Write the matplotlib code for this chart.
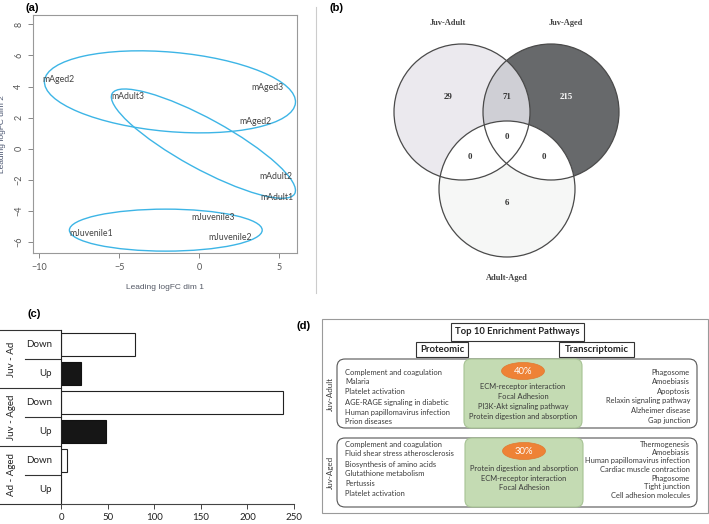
import matplotlib
matplotlib.use("Agg")
import matplotlib.pyplot as plt
from matplotlib.patches import Ellipse, Circle, Rectangle, FancyBboxPatch

plt.rcParams["font.family"] = ["Lato", "DejaVu Sans"]

# %%
# data

# (a) MDS plot
mds_names = ["mAged2", "mAdult3", "mAged3", "mAged2", "mAdult2", "mAdult1",
             "mJuvenile3", "mJuvenile1", "mJuvenile2"]
mds_x = [-8.8, -4.5, 4.25, 3.5, 4.75, 4.87, 0.87, -6.75, 1.9]
mds_y = [4.47, 3.38, 3.95, 1.77, -1.76, -3.11, -4.4, -5.42, -5.68]
# group ellipses: centre x, centre y, width, height, angle
ell_cx = [-1.84, 0.25, -2.1]
ell_cy = [3.66, 0.33, -5.23]
ell_w = [15.75, 13.1, 12.05]
ell_h = [5.1, 3.2, 2.7]
ell_ang = [-5.2, -29.5, 0.0]

# (b) Venn
venn_sets = ["Juv-Adult", "Juv-Aged", "Adult-Aged"]
venn_regions = ["A", "AB", "B", "ABC", "AC", "BC", "C"]
venn_counts = [29, 71, 215, 0, 0, 0, 6]

# (c) DE counts
groups = ["Juv - Ad", "Juv - Aged", "Ad - Aged"]
directions = ["Down", "Up"]
count_down = [79, 238, 6]
count_up = [21, 48, 0]

# (d) pathways
prot_1 = ["Complement and coagulation", "Malaria", "Platelet activation",
          "AGE-RAGE signaling in diabetic", "Human papillomavirus infection",
          "Prion diseases"]
common_1 = ["ECM-receptor interaction", "Focal Adhesion",
            "PI3K-Akt signaling pathway", "Protein digestion and absorption"]
trans_1 = ["Phagosome", "Amoebiasis", "Apoptosis", "Relaxin signaling pathway",
           "Alzheimer disease", "Gap junction"]
prot_2 = ["Complement and coagulation", "Fluid shear stress atherosclerosis",
          "Biosynthesis of amino acids", "Glutathione metabolism", "Pertussis",
          "Platelet activation"]
common_2 = ["Protein digestion and absorption", "ECM-receptor interaction",
            "Focal Adhesion"]
trans_2 = ["Thermogenesis", "Amoebiasis", "Human papillomavirus infection",
           "Cardiac muscle contraction", "Phagosome", "Tight junction",
           "Cell adhesion molecules"]
overlap_pct = ["40%", "30%"]
row_names = ["Juv-Adult", "Juv-Aged"]

# %%
W, H = 709, 524
fig = plt.figure(figsize=(W / 100, H / 100), dpi=100)


def px_axes(l, t, r, b):
    return [l / W, 1 - b / H, (r - l) / W, (b - t) / H]


# overlay in pixel coordinates for (b), (d) and panel labels
ov = fig.add_axes([0, 0, 1, 1])
ov.set_xlim(0, W)
ov.set_ylim(H, 0)
ov.axis("off")

for lab, x, y in [("(a)", 32, 8), ("(b)", 336, 8), ("(c)", 34, 314), ("(d)", 304, 326)]:
    ov.text(x, y, lab, fontsize=8, fontweight="bold", family="Liberation Sans",
            ha="center", va="center")
ov.plot([316, 316], [7, 293], color="#cccccc", lw=0.8)

# %%
# (a)
ax = fig.add_axes(px_axes(33, 15, 297, 253))
ax.set_xlim(-10.4, 6.1)
ax.set_ylim(-6.7, 8.6)
for i in range(len(ell_cx)):
    ax.add_patch(Ellipse((ell_cx[i], ell_cy[i]), ell_w[i], ell_h[i], angle=ell_ang[i],
                         fill=False, ec="#3db5e6", lw=1.0))
for n, x, y in zip(mds_names, mds_x, mds_y):
    ax.text(x, y, n, fontsize=6.3, color="#444444", ha="center", va="center")
ax.set_xticks([-10, -5, 0, 5])
ax.set_yticks(range(-6, 9, 2))
ax.tick_params(colors="#888888", labelcolor="#555555", labelsize=6.5, length=3.5, width=0.7)
plt.setp(ax.get_yticklabels(), rotation=90, va="center")
for s in ax.spines.values():
    s.set_color("#999999")
    s.set_linewidth(0.8)
ax.set_xlabel("Leading logFC dim 1", fontsize=6, color="#555a66", labelpad=9,
              family="Liberation Sans")
ax.set_ylabel("Leading logFC dim 2", fontsize=6, color="#4a5570", labelpad=6,
              family="Liberation Sans")

# %%
# (b) Venn
centres = [(462, 112), (551, 112), (507, 189)]
r = 68


def circ(i, **kw):
    c = Circle(centres[i], r, transform=ov.transData, **kw)
    return c


ov.add_patch(circ(0, fc="#ebe9ee", ec="none"))
ov.add_patch(circ(1, fc="#67696b", ec="none"))
p = ov.add_patch(circ(0, fc="#cfcfd5", ec="none"))
p.set_clip_path(circ(1))
ov.add_patch(circ(2, fc="#f6f7f6", ec="none"))
for i in (0, 1):
    p = ov.add_patch(circ(i, fc="white", ec="none"))
    p.set_clip_path(circ(2))
for i in range(3):
    ov.add_patch(circ(i, fill=False, ec="#4a4a4a", lw=0.9))

region_pos = {"A": (448, 97), "AB": (507, 97), "B": (566, 97), "ABC": (507, 137),
              "AC": (470, 157), "BC": (544, 157), "C": (507, 203)}
for reg, cnt in zip(venn_regions, venn_counts):
    x, y = region_pos[reg]
    ov.text(x, y, str(cnt), fontsize=6.3, fontweight="bold", family="Liberation Serif",
            color="white" if reg == "B" else "#333333", ha="center", va="center")
for name, (x, y) in zip(venn_sets, [(448, 23), (566, 23), (507, 278)]):
    ov.text(x, y, name, fontsize=6, fontweight="bold", family="Liberation Serif",
            color="#444444", ha="center", va="center")

# %%
# (c)
axc = fig.add_axes(px_axes(61, 330, 294, 504))
for i in range(len(groups)):
    axc.barh(2 * i + 0.5, count_down[i], height=0.78, color="white", edgecolor="#222222", lw=0.8)
    axc.barh(2 * i + 1.5, count_up[i], height=0.78, color="#161616", edgecolor="#111111", lw=0.8)
axc.set_xlim(0, 250)
axc.set_ylim(6, 0)
axc.set_yticks([])
axc.set_xticks(range(0, 251, 50))
axc.tick_params(axis="x", labelsize=7, length=3.5, width=0.7, colors="#444444",
                labelcolor="#222222", pad=3)
axc.spines["top"].set_visible(False)
axc.spines["right"].set_visible(False)
axc.spines["left"].set_color("#222222")
axc.spines["bottom"].set_color("#444444")
for s in ("left", "bottom"):
    axc.spines[s].set_linewidth(0.8)
tr = axc.get_yaxis_transform()
for yy in (0, 2, 4, 6):
    axc.plot([-0.262, 0], [yy, yy], color="#333333", lw=0.8, transform=tr, clip_on=False)
for yy in (1, 3, 5):
    axc.plot([-0.155, 0], [yy, yy], color="#333333", lw=0.8, transform=tr, clip_on=False)
for i, g in enumerate(groups):
    axc.text(-0.212, 2 * i + 1, g, rotation=90, fontsize=7, ha="center", va="center",
             transform=tr, color="#222222")
    for j, d in enumerate(directions):
        axc.text(-0.039, 2 * i + j + 0.5, d, fontsize=7, ha="right", va="center",
                 transform=tr, color="#222222")

# %%
# (d) enrichment summary
ov.add_patch(Rectangle((322, 319), 386, 194, fill=False, ec="#9a9a9a", lw=0.8))
ov.add_patch(Rectangle((451, 323), 133, 18, fc="white", ec="#333333", lw=0.8))
ov.text(517.5, 332, "Top 10 Enrichment Pathways", fontsize=6.8, fontweight="bold",
        ha="center", va="center", color="#222222")
ov.add_patch(Rectangle((416, 342), 52, 15, fc="white", ec="#333333", lw=0.8))
ov.text(442, 349.5, "Proteomic", fontsize=6.8, fontweight="bold", ha="center", va="center",
        color="#222222")
ov.add_patch(Rectangle((559, 342), 75, 15, fc="white", ec="#333333", lw=0.8))
ov.text(596.5, 349.5, "Transcriptomic", fontsize=6.8, fontweight="bold", ha="center",
        va="center", color="#222222")

rows = [
    dict(top=359, gx=464, oy=371, prot=prot_1, common=common_1, trans=trans_1,
         py=372, pstep=10, cy=386, cstep=10.3, ty=372, tstep=9.6),
    dict(top=438, gx=465, oy=451, prot=prot_2, common=common_2, trans=trans_2,
         py=444, pstep=10, cy=468, cstep=10, ty=444, tstep=8.5),
]
txt = dict(fontsize=5.4, color="#3a3a3a", va="center")
for k, rw in enumerate(rows):
    t = rw["top"]
    ov.add_patch(FancyBboxPatch((337, t), 360, 69, boxstyle="round,pad=0,rounding_size=8",
                                fc="white", ec="#555555", lw=0.8))
    ov.add_patch(FancyBboxPatch((rw["gx"], t), 118, 69, boxstyle="round,pad=0,rounding_size=7",
                                fc="#c4dbb3", ec="#a6c293", lw=0.8))
    cx = rw["gx"] + 59
    ov.add_patch(Ellipse((cx, rw["oy"]), 43, 17, fc="#ee8236", ec="#e07a30", lw=0.5))
    ov.text(cx, rw["oy"], overlap_pct[k], fontsize=6.8, color="white", ha="center", va="center")
    for j, s in enumerate(rw["prot"]):
        ov.text(345, rw["py"] + j * rw["pstep"], s, ha="left", **txt)
    for j, s in enumerate(rw["common"]):
        ov.text(cx, rw["cy"] + j * rw["cstep"], s, ha="center", **txt)
    for j, s in enumerate(rw["trans"]):
        ov.text(690, rw["ty"] + j * rw["tstep"], s, ha="right", **txt)
    ov.text(330, t + 34.5, row_names[k], rotation=90, fontsize=5.8, color="#3a3a3a",
            ha="center", va="center")

fig.savefig("out.png", dpi=100)
